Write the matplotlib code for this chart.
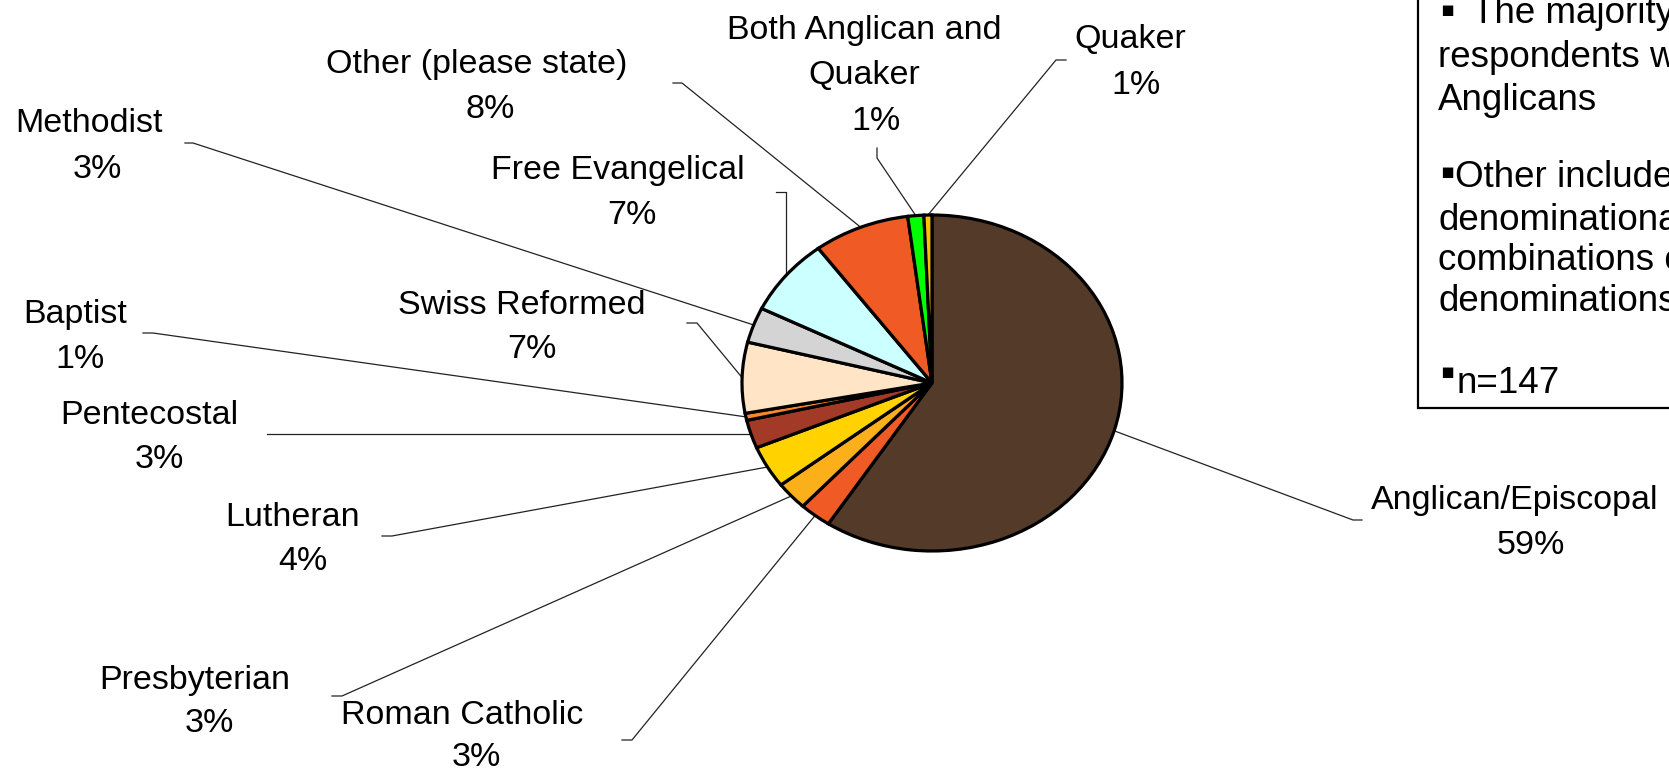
"""
宗派分布饼图 (n=147)
"""
import numpy as np
import matplotlib
matplotlib.use('Agg')
import matplotlib.pyplot as plt
from matplotlib.patches import Rectangle

plt.rcParams['font.family'] = ['Liberation Sans', 'DejaVu Sans']

# 数据
denominations = ['Anglican/Episcopal', 'Roman Catholic', 'Presbyterian', 'Lutheran',
                 'Pentecostal', 'Baptist', 'Swiss Reformed', 'Methodist',
                 'Free Evangelical', 'Other (please state)', 'Both Anglican and\nQuaker',
                 'Quaker']
counts = [87, 4, 4, 6, 4, 1, 10, 5, 11, 12, 2, 1]
colors = ['#533a29', '#f05a24', '#fbaf1b', '#ffd200', '#a33a28', '#f7882a',
          '#ffe5c6', '#d4d4d4', '#ccffff', '#f05a24', '#00ff00', '#ffc000']

note_lines = ['The majority of', 'respondents were', 'Anglicans',
              'Other includes', 'denominational', 'combinations of', 'denominations',
              'n=147']

# 标签布局 (像素坐标, y 向下): 名称第一行中心, 百分比行中心
name_pos = [(1515, 500), (462, 715), (195, 680), (293, 518), (149, 415), (75, 314),
            (522, 305), (89, 124), (618, 171), (477, 65), (864, 30), (1130, 39)]
pct_pos = [(1531, 546), (476, 758), (209, 724), (303, 562), (159, 460), (80, 359),
           (532, 350), (97, 170), (632, 216), (490, 110), (876, 121), (1136, 85)]
knee_pos = [(1353, 520), (632, 740), (342, 696), (392, 536), (277, None), (153, 333),
            (697, 323), (193, 143), (None, 192), (682, 83), (877, 158), (1056, 60)]
tail_pos = [(1362, 520), (622, 740), (332, 696), (382, 536), (267, None), (143, 333),
            (687, 323), (185, 143), (776, 192), (673, 83), (877, 148), (1066, 60)]
line_gap = 46

W, H = 1669, 777
fig = plt.figure(figsize=(W / 100, H / 100), dpi=100)

# 覆盖整个画布的像素坐标轴
ax = fig.add_axes([0, 0, 1, 1])
ax.set_xlim(0, W)
ax.set_ylim(H, 0)
ax.axis('off')

# 饼图 (椭圆)
cx, cy, rx, ry = 932, 383, 190, 168
pie_ax = fig.add_axes([(cx - rx) / W, (H - cy - ry) / H, 2 * rx / W, 2 * ry / H])
wedges, _ = pie_ax.pie(counts, colors=colors, startangle=90, counterclock=False,
                       radius=1, wedgeprops=dict(edgecolor='black', linewidth=2.3))
pie_ax.set_aspect('auto')
pie_ax.set_xlim(-1, 1)
pie_ax.set_ylim(-1, 1)
pie_ax.axis('off')

total = sum(counts)
for w, name, c, npos, ppos, kp, tp in zip(wedges, denominations, counts,
                                          name_pos, pct_pos, knee_pos, tail_pos):
    # 引导线: 扇区中点 -> 拐点 -> 短横线
    mid = np.deg2rad((w.theta1 + w.theta2) / 2)
    disp = pie_ax.transData.transform((np.cos(mid), np.sin(mid)))
    px, py = ax.transData.inverted().transform(disp)
    kx = px if kp[0] is None else kp[0]
    ky = py if kp[1] is None else kp[1]
    ty = py if tp[1] is None else tp[1]
    ax.plot([px, kx, tp[0]], [py, ky, ty], color='#222222', linewidth=0.9)

    lines = name.split('\n')
    for i, s in enumerate(lines):
        ax.text(npos[0], npos[1] + i * line_gap, s, ha='center', va='center', fontsize=24.5)
    pct = round(100 * c / total)
    ax.text(ppos[0], ppos[1], f'{pct}%', ha='center', va='center', fontsize=24.5)

# 右侧说明框
ax.add_patch(Rectangle((1418, -10), 300, 418, fill=False, edgecolor='black',
                       linewidth=1.6, clip_on=False))
note_x = [1472, 1438, 1438, 1455, 1438, 1438, 1438, 1457]
note_y = [23, 67, 110, 187, 230, 270, 311, 393]
for s, x, y in zip(note_lines, note_x, note_y):
    ax.text(x, y, s, ha='left', va='baseline', fontsize=26.5)
for y in [10, 172, 372]:
    ax.text(1447, y, '\u25aa', ha='center', va='center', fontsize=15,
            family='DejaVu Sans')

plt.savefig('out.png', dpi=100)
